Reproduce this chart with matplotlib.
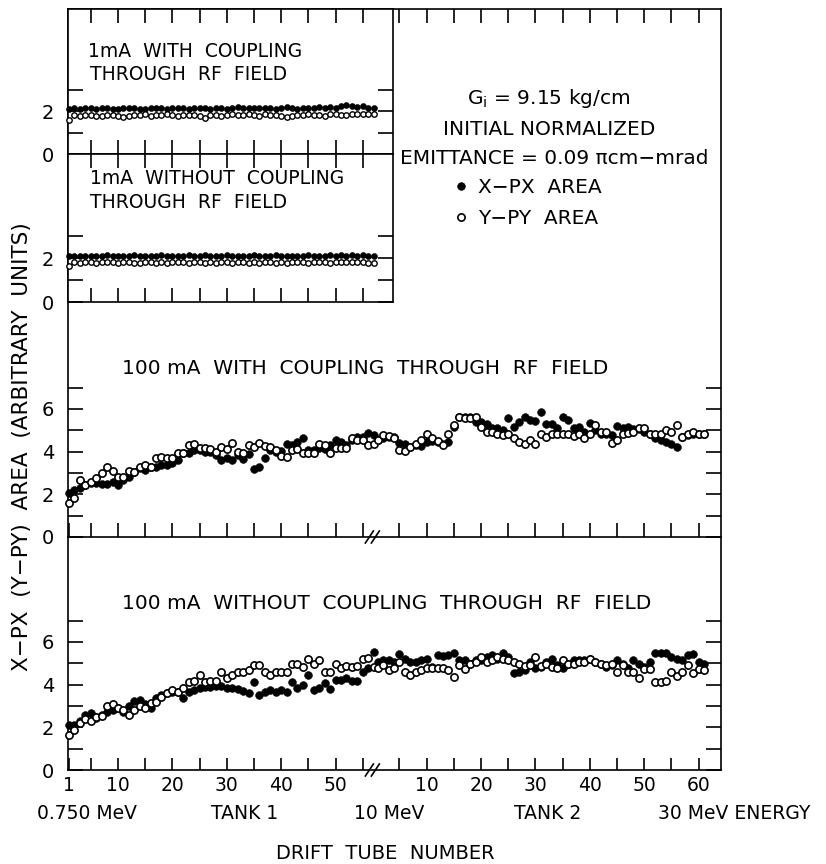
import matplotlib
matplotlib.use("Agg")
import matplotlib.pyplot as plt
from matplotlib.lines import Line2D
import numpy as np

plt.rcParams['font.family'] = ['DejaVu Sans']

# ---------------- data ----------------
# tube numbers
tank1_tubes = list(range(1, 58))
tank2_tubes = list(range(1, 62))

# 1 mA with coupling (tank 1 only)
c1_x = [2.10,2.12,2.10,2.13,2.12,2.10,2.12,2.14,2.11,2.10,2.13,2.15,2.12,2.10,2.08,2.12,2.15,2.13,2.11,2.12,
        2.14,2.12,2.10,2.13,2.16,2.12,2.10,2.14,2.13,2.11,2.15,2.18,2.14,2.12,2.16,2.13,2.15,2.12,2.10,2.14,
        2.17,2.13,2.11,2.15,2.12,2.14,2.18,2.16,2.20,2.16,2.24,2.28,2.22,2.18,2.22,2.16,2.14]
c1_y = [1.60,1.80,1.78,1.82,1.80,1.78,1.76,1.80,1.82,1.78,1.70,1.75,1.82,1.80,1.85,1.78,1.80,1.82,1.84,1.80,
        1.78,1.80,1.82,1.80,1.78,1.66,1.80,1.82,1.78,1.80,1.84,1.80,1.82,1.85,1.80,1.78,1.84,1.82,1.80,1.78,
        1.70,1.78,1.82,1.80,1.84,1.80,1.82,1.78,1.84,1.86,1.82,1.80,1.86,1.84,1.88,1.85,1.88]

# 1 mA without coupling (tank 1 only)
n1_x = [2.10,2.12,2.10,2.12,2.10,2.12,2.11,2.13,2.10,2.12,2.10,2.12,2.14,2.12,2.10,2.12,2.10,2.13,2.11,2.12,
        2.10,2.12,2.14,2.12,2.10,2.13,2.12,2.10,2.12,2.14,2.12,2.10,2.12,2.11,2.13,2.12,2.10,2.12,2.14,2.12,
        2.10,2.12,2.11,2.12,2.13,2.12,2.10,2.12,2.14,2.12,2.13,2.12,2.14,2.12,2.13,2.12,2.10]
n1_y = [1.62,1.84,1.80,1.82,1.82,1.80,1.82,1.84,1.82,1.80,1.82,1.84,1.80,1.78,1.82,1.84,1.80,1.82,1.78,1.82,
        1.84,1.82,1.80,1.82,1.84,1.76,1.82,1.80,1.84,1.82,1.80,1.82,1.84,1.78,1.82,1.80,1.82,1.84,1.80,1.82,
        1.76,1.82,1.84,1.82,1.80,1.82,1.84,1.82,1.80,1.82,1.84,1.82,1.82,1.84,1.82,1.80,1.80]

# 100 mA with coupling
c100_x_t1 = [2.08,2.20,2.28,2.44,2.52,2.52,2.48,2.48,2.59,2.44,2.67,2.83,3.06,3.22,3.14,3.27,3.30,3.38,3.38,3.45,
             3.61,3.92,3.95,4.08,4.08,4.00,4.00,3.84,3.61,3.69,3.61,3.84,3.64,3.89,3.19,3.30,3.69,4.08,4.00,4.05,
             4.36,4.31,4.47,4.63,4.08,4.08,4.16,4.11,4.31,4.55,4.47,4.31,4.55,4.67,4.70,4.89,4.78]
c100_y_t1 = [1.58,1.81,2.67,2.44,2.59,2.75,2.99,3.27,3.11,2.83,2.83,3.11,3.06,3.27,3.38,3.30,3.69,3.77,3.69,3.69,
             3.92,3.92,4.31,4.34,4.16,4.16,4.11,4.00,4.23,4.11,4.42,4.00,3.95,4.31,4.23,4.39,4.27,4.20,4.08,3.80,
             3.74,4.08,4.11,3.95,3.95,3.95,4.34,4.31,3.95,4.16,4.16,4.16,4.63,4.55,4.55,4.31,4.36]
c100_x_t2 = [4.54,4.62,4.67,4.70,4.41,4.38,4.23,4.30,4.26,4.46,4.51,4.46,4.35,4.46,5.17,5.61,5.61,5.61,5.40,5.40,
             5.32,5.09,5.09,5.01,5.56,5.17,5.40,5.61,5.48,5.45,5.84,5.29,5.29,5.09,5.64,5.48,5.09,5.17,4.93,5.36,
             5.01,4.85,4.85,4.78,5.20,5.09,5.14,5.04,5.04,4.93,4.85,4.62,4.57,4.46,4.38,4.23,4.67,4.78,4.85,4.82,
             4.85]
c100_y_t2 = [4.57,4.78,4.73,4.62,4.07,4.04,4.23,4.35,4.57,4.82,4.62,4.51,4.30,4.85,5.25,5.64,5.56,5.56,5.61,5.17,
             4.93,4.93,4.85,4.78,4.85,4.62,4.46,4.38,4.57,4.38,4.82,4.70,4.82,4.82,4.82,4.85,4.73,4.85,4.62,4.85,
             5.25,4.93,4.93,4.41,4.57,4.85,4.89,4.93,5.09,5.09,4.85,4.85,4.82,5.01,4.93,5.25,4.70,4.85,4.93,4.82,
             4.82]

# 100 mA without coupling
n100_x_t1 = [2.12,2.12,2.28,2.56,2.67,2.43,2.59,2.74,2.82,2.90,2.74,2.98,3.24,3.29,3.09,2.90,3.36,3.52,3.60,3.67,
             3.64,3.36,3.67,3.75,3.83,3.91,3.91,3.95,3.95,3.83,3.86,3.80,3.71,3.63,4.11,3.52,3.64,3.75,3.67,3.75,
             3.64,4.14,3.83,3.98,4.45,3.75,3.83,4.06,3.80,4.22,4.22,4.29,4.17,4.17,4.60,4.76,5.53]
n100_y_t1 = [1.63,1.89,2.20,2.40,2.28,2.47,2.51,2.98,3.09,2.90,2.82,2.59,2.82,2.98,2.90,3.13,3.18,3.44,3.60,3.75,
             3.67,3.83,4.11,4.17,4.45,4.14,4.17,4.17,4.60,4.29,4.45,4.57,4.60,4.68,4.91,4.91,4.60,4.45,4.57,4.57,
             4.57,4.95,4.95,4.84,5.19,4.99,5.15,4.60,4.60,4.95,4.76,4.88,4.84,4.88,5.19,5.26,4.84]
n100_x_t2 = [5.07,5.15,5.15,5.07,5.46,5.22,5.07,5.07,5.15,5.19,4.84,5.41,5.35,5.38,5.50,5.15,5.15,4.95,5.15,5.15,
             5.30,5.41,5.19,5.50,5.30,4.53,4.57,4.68,5.07,4.76,4.84,5.04,5.22,4.91,4.79,4.99,5.15,5.15,5.15,5.19,
             5.07,4.95,4.84,4.91,5.15,4.95,4.79,5.15,4.95,4.84,5.07,5.50,5.50,5.50,5.30,5.22,5.15,5.41,5.46,5.04,
             4.95]
n100_y_t2 = [4.79,4.91,4.68,4.79,5.04,4.60,4.45,4.60,4.68,4.76,4.76,4.76,4.79,4.68,4.37,4.91,4.73,4.99,5.07,5.30,
             5.07,5.15,5.30,5.22,5.15,5.07,4.99,4.88,4.94,5.30,4.88,4.99,4.84,4.79,5.15,4.95,4.95,5.07,5.07,5.22,
             5.07,4.99,4.91,4.99,4.60,4.91,4.60,4.60,4.33,4.73,4.73,4.14,4.11,4.17,4.60,4.42,4.57,4.90,4.53,4.73,
             4.68]

tick_tubes_t1 = [1, 5, 10, 15, 20, 25, 30, 35, 40, 45, 50, 55]
tick_tubes_t2 = [5, 10, 15, 20, 25, 30, 35, 40, 45, 50, 55, 60]
y_ticks_main = [0, 1, 2, 3, 4, 5, 6, 7]
y_ticks_inset = [0, 1, 2, 3]

# ---------------- layout ----------------
W, H = 826, 864
T2_OFFSET = 56.75          # position of tank-2 tube 0 on the common axis
XMIN, XMAX = 0.82, 120.85
XMAX_INSET = 60.56

fig = plt.figure(figsize=(W / 100, H / 100), dpi=100)


def rect(x0, y0, x1, y1):
    return [x0 / W, 1 - y1 / H, (x1 - x0) / W, (y1 - y0) / H]


ax_bot = fig.add_axes(rect(68, 537, 721, 770))
ax_mid = fig.add_axes(rect(68, 9, 721, 537))
ax_in1 = fig.add_axes(rect(68, 9, 393, 154), zorder=3)
ax_in2 = fig.add_axes(rect(68, 154, 393, 302), zorder=3)

p1 = np.array(tank1_tubes, dtype=float)
p2 = np.array(tank2_tubes, dtype=float) + T2_OFFSET
p_all = np.concatenate([p1, p2])

xt_pos = list(tick_tubes_t1) + [t + T2_OFFSET for t in tick_tubes_t2]
xt_lab = [str(t) if (t == 1 or t % 10 == 0) else '' for t in tick_tubes_t1] + \
         [str(t) if t % 10 == 0 else '' for t in tick_tubes_t2]

LW = 1.2
main_ms_f, main_ms_o = 5.6, 5.2
ins_ms_f, ins_ms_o = 4.3, 3.9


def draw_series(ax, x, yx, yy, msf, mso, mew):
    hx, = ax.plot(x, yx, 'o', ms=msf, mfc='black', mec='black', mew=0.4, ls='none', zorder=3, clip_on=False)
    hy, = ax.plot(x, yy, 'o', ms=mso, mfc='white', mec='black', mew=mew, ls='none', zorder=4, clip_on=False)
    return hx, hy


hx, hy = draw_series(ax_mid, p_all, c100_x_t1 + c100_x_t2, c100_y_t1 + c100_y_t2, main_ms_f, main_ms_o, 1.2)
draw_series(ax_bot, p_all, n100_x_t1 + n100_x_t2, n100_y_t1 + n100_y_t2, main_ms_f, main_ms_o, 1.2)
draw_series(ax_in1, p1, c1_x, c1_y, ins_ms_f, ins_ms_o, 1.0)
draw_series(ax_in2, p1, n1_x, n1_y, ins_ms_f, ins_ms_o, 1.0)

for ax in (ax_bot, ax_mid, ax_in1, ax_in2):
    for s in ax.spines.values():
        s.set_linewidth(LW)
    ax.tick_params(which='both', direction='in', width=LW, colors='black')

# bottom panel
ax_bot.set_xlim(XMIN, XMAX)
ax_bot.set_ylim(0, 10.92)
ax_bot.spines['top'].set_visible(False)
ax_bot.set_xticks(xt_pos)
ax_bot.set_xticklabels(xt_lab)
ax_bot.tick_params(axis='x', length=9, pad=4, labelsize=13.5, top=False)
ax_bot.set_yticks(y_ticks_main)
ax_bot.set_yticklabels([str(v) if v % 2 == 0 else '' for v in y_ticks_main])
ax_bot.tick_params(axis='y', length=11, pad=10, labelsize=14, right=True)

# middle panel
ax_mid.set_xlim(XMIN, XMAX)
ax_mid.set_ylim(0, 24.75)
ax_mid.set_xticks(xt_pos)
ax_mid.set_xticklabels([])
ax_mid.tick_params(axis='x', length=10, top=True, bottom=True)
ax_mid.set_yticks(y_ticks_main)
ax_mid.set_yticklabels([str(v) if v % 2 == 0 else '' for v in y_ticks_main])
ax_mid.tick_params(axis='y', length=11, pad=10, labelsize=14, right=True)

# insets
for ax in (ax_in1, ax_in2):
    ax.set_facecolor('white')
    ax.set_xlim(XMIN, XMAX_INSET)
    ax.set_ylim(0, 6.75)
    ax.set_xticks(tick_tubes_t1[1:])
    ax.set_xticklabels([])
    ax.tick_params(axis='x', length=10, top=True, bottom=True)
    ax.set_yticks(y_ticks_inset)
    ax.set_yticklabels([str(v) if v % 2 == 0 else '' for v in y_ticks_inset])
    ax.tick_params(axis='y', length=11, pad=10, labelsize=14, right=True)


def ftext(x, y, s, **kw):
    fig.text(x / W, 1 - y / H, s, **kw)


# panel titles
ftext(88, 57, '1mA  WITH  COUPLING', fontsize=13.5, zorder=5)
ftext(90, 79.5, 'THROUGH  RF  FIELD', fontsize=13.5, zorder=5)
ftext(90, 184.5, '1mA  WITHOUT  COUPLING', fontsize=13.5, zorder=5)
ftext(90, 207.5, 'THROUGH  RF  FIELD', fontsize=13.5, zorder=5)
ftext(122, 374, '100 mA  WITH  COUPLING  THROUGH  RF  FIELD', fontsize=14.5)
ftext(122, 609, '100 mA  WITHOUT  COUPLING  THROUGH  RF  FIELD', fontsize=14.5)

# legend block
ftext(549, 104, r'G$_\mathregular{i}$ = 9.15 kg/cm', fontsize=14.5, ha='center')
ftext(549, 135, 'INITIAL NORMALIZED', fontsize=14.5, ha='center')
ftext(554, 164, 'EMITTANCE = 0.09 \u03c0cm\u2212mrad', fontsize=14.5, ha='center')
fig.legend(handles=[hx, hy], labels=['X\u2212PX  AREA', 'Y\u2212PY  AREA'],
           loc='upper left', bbox_to_anchor=(455 / W, 1 - 178 / H),
           frameon=False, fontsize=14.5, handlelength=0.6, handletextpad=0.55,
           labelspacing=0.6, borderpad=0, borderaxespad=0, numpoints=1)

# axis annotations below
for cx, s in [(87, '0.750 MeV'), (245, 'TANK 1'), (389, '10 MeV'), (548, 'TANK 2'), (734, '30 MeV ENERGY')]:
    ftext(cx, 819, s, fontsize=13.5, ha='center')
ftext(385, 859, 'DRIFT  TUBE  NUMBER', fontsize=14, ha='center')
ftext(22, 447, 'X\u2212PX  (Y\u2212PY)  AREA  (ARBITRARY  UNITS)', fontsize=15.5,
      rotation=90, ha='center', va='center')

# axis break marks
xb = 69 + (T2_OFFSET + 0.2 - 1) * 5.44
for yb in (537, 770):
    for dx in (-4, 2):
        fig.add_artist(Line2D([(xb + dx - 4) / W, (xb + dx + 4) / W],
                              [1 - (yb + 6) / H, 1 - (yb - 6) / H],
                              color='black', lw=1.2, transform=fig.transFigure))

fig.savefig('out.png', dpi=100, facecolor='white')
